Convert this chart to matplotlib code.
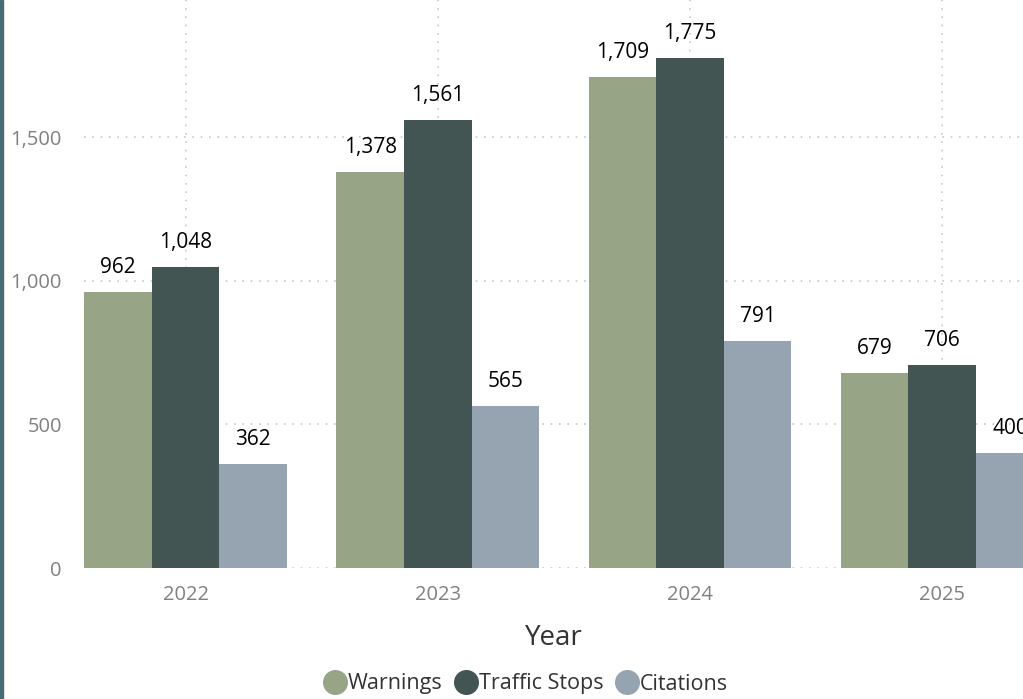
import matplotlib.pyplot as plt
import numpy as np
from matplotlib.lines import Line2D

years = ["2022", "2023", "2024", "2025"]
warnings = [962, 1378, 1709, 679]
traffic_stops = [1048, 1561, 1775, 706]
citations = [362, 565, 791, 400]

series = [("Warnings", warnings, "#98a486"),
          ("Traffic Stops", traffic_stops, "#425552"),
          ("Citations", citations, "#95a4b0")]

plt.rcParams['font.family'] = ['Open Sans', 'DejaVu Sans']

fig = plt.figure(figsize=(10.23, 6.99), dpi=100)
ax = fig.add_axes([84 / 1023, (699 - 568) / 699, 1 - 84 / 1023, 568 / 699])

x = np.arange(len(years))
w = 0.268
for i, (name, vals, col) in enumerate(series):
    pos = x + (i - 1) * w
    ax.bar(pos, vals, width=w, color=col, zorder=3)
    for p, v in zip(pos, vals):
        ax.annotate(f"{v:,}", (p, v), xytext=(0, 10), textcoords="offset points",
                    ha="center", va="bottom", fontsize=15, color="black",
                    annotation_clip=False, zorder=4)

ax.set_xlim(-0.4025, 3.32)
ax.set_ylim(0, 1977)
ax.set_yticks([0, 500, 1000, 1500])
ax.set_yticklabels(["0", "500", "1,000", "1,500"])
ax.set_xticks(x)
ax.set_xticklabels(years)
ax.tick_params(axis="both", length=0, labelsize=14.5, labelcolor="#808080")
ax.tick_params(axis="y", pad=16)
ax.tick_params(axis="x", pad=12)
ax.grid(True, color="#c8c8c8", linestyle=(0, (1, 4)), linewidth=1.2, zorder=0)
for s in ax.spines.values():
    s.set_visible(False)

ax.set_xlabel("Year", fontsize=20, color="#333333", labelpad=14)

# left accent band
fig.patches.append(plt.Rectangle((0, 0), 3 / 1023, 1, transform=fig.transFigure,
                                 color="#4b6a78", zorder=5))

handles = [Line2D([], [], marker="o", linestyle="", markersize=17,
                  markerfacecolor=c, markeredgecolor=c) for _, _, c in series]
fig.legend(handles, [s[0] for s in series], loc="center", bbox_to_anchor=(525 / 1023, 1 - 684 / 699),
           ncol=3, frameon=False, fontsize=15.5, labelcolor="#333333",
           handletextpad=0.0, columnspacing=0.5, handlelength=1.2)

fig.savefig("out.png", dpi=100)
